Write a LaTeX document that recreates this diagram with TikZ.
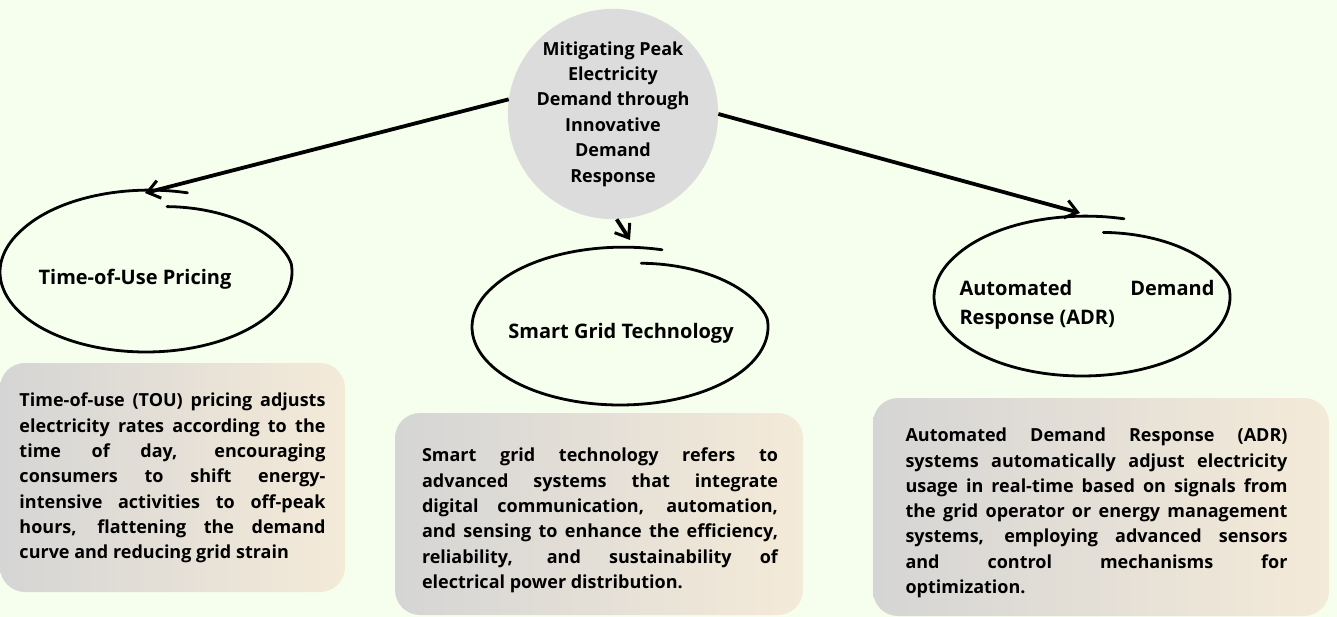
\documentclass[tikz,border=0pt]{standalone}
\usepackage{fontspec}
\setmainfont{Open Sans}
\usetikzlibrary{arrows.meta,shapes}

\definecolor{bgcol}{RGB}{246,255,238}
\definecolor{hubgray}{RGB}{220,220,220}
\definecolor{boxgray}{RGB}{213,213,213}
\definecolor{boxbeige}{RGB}{244,234,216}

\newcommand{\bodyfont}{\fontsize{18}{25.3}\selectfont\bfseries\hyphenpenalty=10000}
\newcommand{\hubfont}{\fontsize{18}{25.4}\selectfont\bfseries}
\newcommand{\labelfont}{\fontsize{20}{29}\selectfont\bfseries\hyphenpenalty=10000}
\newcommand{\handloop}[4]{%
  \draw[loopline] plot[smooth, samples=90, domain=80:-286, variable=\t]
    ({#1+#3*loopf(\t)*cos(\t)}, {#2-#4*loopf(\t)*sin(\t)});}

\tikzset{
  hub/.style={circle, fill=hubgray, minimum size=205pt, inner sep=0pt, align=center, font=\hubfont},
  topic/.style={inner sep=0pt, font=\labelfont},
  infobox/.style={rounded corners=25pt, left color=boxgray, right color=boxbeige, inner sep=0pt},
  boxtext/.style={inner sep=0pt, align=justify, font=\bodyfont},
  loopline/.style={line width=2.8pt, line cap=round, line join=round},
  conn/.style={line width=3.8pt, -{Straight Barb[length=12pt,width=18pt,line width=3pt]}}
}

\begin{document}
\begin{tikzpicture}[x=1pt, y=-1pt,
  declare function={loopf(\t)=0.83+0.17*min(1,(80-\t)/73)+0.03*max(0,((80-\t)/366-0.8)/0.2);}]
	\fill[bgcol] (0,0) rectangle (1337,617);
	\useasboundingbox (0,0) rectangle (1337,617);

	% main topic
	\node[hub] (hub) at (613,114) {Mitigating Peak\\Electricity\\Demand through\\Innovative\\Demand\\Response};

	% hand drawn loops
	\handloop{146}{272}{146}{80}
	\handloop{620}{327}{148}{78}
	\handloop{1082}{297}{148}{79}

	\node[topic] (tou) at (135,279) {Time-of-Use Pricing};
	\node[topic] (sgt) at (621,333) {Smart Grid Technology};
	\node[topic, text width=255pt, align=justify] (adr) at (1087,305) {Automated Demand\linebreak Response (ADR)};

	\coordinate (tou-top) at (145,193);
	\coordinate (sgt-top) at (630,240);
	\coordinate (adr-top) at (1080,213);

	\draw[conn] (hub.172) -- (tou-top);
	\draw[conn] (hub.-88) -- (sgt-top);
	\draw[conn] (hub.0) -- (adr-top);

	% descriptions
	\node[infobox, minimum width=345pt, minimum height=229pt] (tou-box) at (172.5,477.5) {};
	\node[infobox, minimum width=408pt, minimum height=202pt] (sgt-box) at (599,514) {};
	\node[infobox, minimum width=456pt, minimum height=218pt] (adr-box) at (1101,507) {};

	\node[boxtext, text width=306pt] (tou-text) at (172.5,478)
		{Time-of-use (TOU) pricing adjusts\linebreak electricity rates according to the\linebreak time of day, encouraging\linebreak consumers to shift energy-\linebreak intensive activities to off-peak\linebreak hours, flattening the demand\linebreak curve and reducing grid strain};
	\node[boxtext, text width=356pt] (sgt-text) at (600,520.5)
		{Smart grid technology refers to\linebreak advanced systems that integrate\linebreak digital communication, automation,\linebreak and sensing to enhance the efficiency,\linebreak reliability, and sustainability of\linebreak electrical power distribution.};
	\node[boxtext, text width=382pt] (adr-text) at (1096.5,513)
		{Automated Demand Response (ADR)\linebreak systems automatically adjust electricity\linebreak usage in real-time based on signals from\linebreak the grid operator or energy management\linebreak systems, employing advanced sensors\linebreak and control mechanisms for\linebreak optimization.};
\end{tikzpicture}
\end{document}
